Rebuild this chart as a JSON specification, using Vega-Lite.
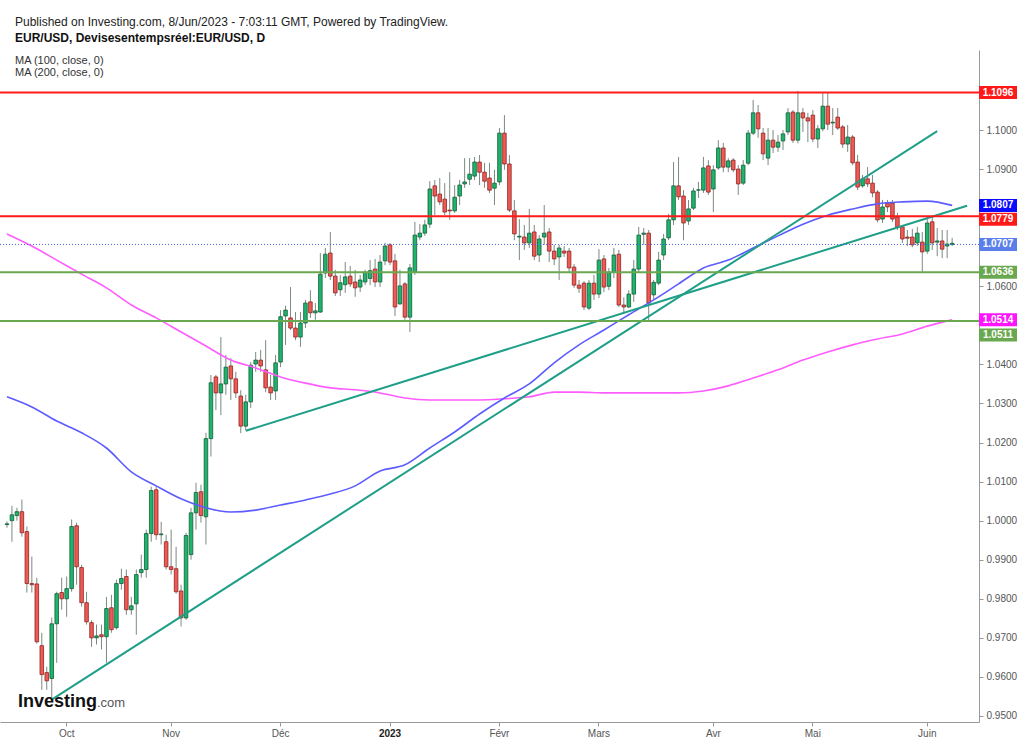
{
"$schema":"https://vega.github.io/schema/vega-lite/v6.json",
"width":979,"height":672,
"autosize":{"type":"none"},
"padding":{"left":0,"top":50,"right":45,"bottom":21},
"background":"#ffffff",
"config":{"view":{"stroke":null},"font":"Liberation Sans"},
"title":{"text":"Published on Investing.com, 8/Jun/2023 - 7:03:11 GMT, Powered by TradingView.","subtitle":"EUR/USD, Devisesentempsréel:EUR/USD, D","anchor":"start","frame":"group","dx":15,"offset":5,"font":"Liberation Sans","fontSize":12,"fontWeight":"normal","color":"#222222","subtitleFont":"Liberation Sans","subtitleFontSize":12,"subtitleFontWeight":"bold","subtitleColor":"#111111","subtitlePadding":4},
"datasets":{
"candles":[
{"d":"2022-09-15","o":0.9990,"h":0.9998,"l":0.9982,"c":0.9992},
{"d":"2022-09-16","o":1.0000,"h":1.0038,"l":0.9946,"c":1.0015},
{"d":"2022-09-19","o":1.0013,"h":1.0033,"l":1.0000,"c":1.0023},
{"d":"2022-09-20","o":1.0023,"h":1.0054,"l":0.9959,"c":0.9969},
{"d":"2022-09-21","o":0.9972,"h":0.9985,"l":0.9816,"c":0.9839},
{"d":"2022-09-22","o":0.9839,"h":0.9908,"l":0.9816,"c":0.9836},
{"d":"2022-09-23","o":0.9838,"h":0.9854,"l":0.9685,"c":0.9690},
{"d":"2022-09-26","o":0.9680,"h":0.9713,"l":0.9567,"c":0.9606},
{"d":"2022-09-27","o":0.9611,"h":0.9626,"l":0.9567,"c":0.9590},
{"d":"2022-09-28","o":0.9596,"h":0.9752,"l":0.9540,"c":0.9736},
{"d":"2022-09-29","o":0.9736,"h":0.9818,"l":0.9636,"c":0.9813},
{"d":"2022-09-30","o":0.9816,"h":0.9854,"l":0.9772,"c":0.9800},
{"d":"2022-10-03","o":0.9800,"h":0.9857,"l":0.9754,"c":0.9826},
{"d":"2022-10-04","o":0.9826,"h":1.0003,"l":0.9818,"c":0.9985},
{"d":"2022-10-05","o":0.9987,"h":0.9995,"l":0.9836,"c":0.9882},
{"d":"2022-10-06","o":0.9880,"h":0.9887,"l":0.9780,"c":0.9790},
{"d":"2022-10-07","o":0.9790,"h":0.9818,"l":0.9734,"c":0.9741},
{"d":"2022-10-10","o":0.9739,"h":0.9745,"l":0.9677,"c":0.9700},
{"d":"2022-10-11","o":0.9700,"h":0.9734,"l":0.9683,"c":0.9705},
{"d":"2022-10-12","o":0.9708,"h":0.9734,"l":0.9670,"c":0.9703},
{"d":"2022-10-13","o":0.9703,"h":0.9805,"l":0.9636,"c":0.9775},
{"d":"2022-10-14","o":0.9777,"h":0.9810,"l":0.9713,"c":0.9721},
{"d":"2022-10-17","o":0.9726,"h":0.9849,"l":0.9721,"c":0.9839},
{"d":"2022-10-18","o":0.9839,"h":0.9877,"l":0.9823,"c":0.9852},
{"d":"2022-10-19","o":0.9857,"h":0.9875,"l":0.9759,"c":0.9772},
{"d":"2022-10-20","o":0.9772,"h":0.9805,"l":0.9759,"c":0.9782},
{"d":"2022-10-21","o":0.9787,"h":0.9875,"l":0.9708,"c":0.9862},
{"d":"2022-10-24","o":0.9867,"h":0.9913,"l":0.9854,"c":0.9875},
{"d":"2022-10-25","o":0.9875,"h":0.9977,"l":0.9854,"c":0.9967},
{"d":"2022-10-26","o":0.9967,"h":1.0087,"l":0.9946,"c":1.0077},
{"d":"2022-10-27","o":1.0079,"h":1.0087,"l":0.9951,"c":0.9964},
{"d":"2022-10-28","o":0.9964,"h":0.9997,"l":0.9939,"c":0.9966},
{"d":"2022-10-31","o":0.9946,"h":0.9964,"l":0.9875,"c":0.9882},
{"d":"2022-11-01","o":0.9882,"h":0.9977,"l":0.9862,"c":0.9875},
{"d":"2022-11-02","o":0.9877,"h":0.9933,"l":0.9813,"c":0.9818},
{"d":"2022-11-03","o":0.9820,"h":0.9836,"l":0.9729,"c":0.9751},
{"d":"2022-11-04","o":0.9751,"h":0.9969,"l":0.9746,"c":0.9962},
{"d":"2022-11-07","o":0.9913,"h":1.0033,"l":0.9900,"c":1.0020},
{"d":"2022-11-08","o":1.0020,"h":1.0097,"l":0.9977,"c":1.0072},
{"d":"2022-11-09","o":1.0074,"h":1.0092,"l":0.9995,"c":1.0013},
{"d":"2022-11-10","o":1.0010,"h":1.0225,"l":0.9939,"c":1.0210},
{"d":"2022-11-11","o":1.0210,"h":1.0373,"l":1.0164,"c":1.0353},
{"d":"2022-11-14","o":1.0368,"h":1.0373,"l":1.0283,"c":1.0327},
{"d":"2022-11-15","o":1.0327,"h":1.0470,"l":1.0270,"c":1.0350},
{"d":"2022-11-16","o":1.0350,"h":1.0424,"l":1.0322,"c":1.0393},
{"d":"2022-11-17","o":1.0396,"h":1.0416,"l":1.0309,"c":1.0363},
{"d":"2022-11-18","o":1.0363,"h":1.0381,"l":1.0314,"c":1.0327},
{"d":"2022-11-21","o":1.0319,"h":1.0334,"l":1.0224,"c":1.0242},
{"d":"2022-11-22","o":1.0242,"h":1.0322,"l":1.0232,"c":1.0304},
{"d":"2022-11-23","o":1.0304,"h":1.0406,"l":1.0288,"c":1.0398},
{"d":"2022-11-24","o":1.0401,"h":1.0432,"l":1.0381,"c":1.0411},
{"d":"2022-11-25","o":1.0411,"h":1.0437,"l":1.0381,"c":1.0396},
{"d":"2022-11-28","o":1.0386,"h":1.0462,"l":1.0329,"c":1.0340},
{"d":"2022-11-29","o":1.0342,"h":1.0373,"l":1.0309,"c":1.0327},
{"d":"2022-11-30","o":1.0332,"h":1.0424,"l":1.0309,"c":1.0404},
{"d":"2022-12-01","o":1.0406,"h":1.0539,"l":1.0393,"c":1.0522},
{"d":"2022-12-02","o":1.0524,"h":1.0550,"l":1.0450,"c":1.0539},
{"d":"2022-12-05","o":1.0519,"h":1.0598,"l":1.0488,"c":1.0493},
{"d":"2022-12-06","o":1.0493,"h":1.0534,"l":1.0462,"c":1.0470},
{"d":"2022-12-07","o":1.0470,"h":1.0534,"l":1.0445,"c":1.0506},
{"d":"2022-12-08","o":1.0506,"h":1.0565,"l":1.0493,"c":1.0557},
{"d":"2022-12-09","o":1.0560,"h":1.0590,"l":1.0519,"c":1.0532},
{"d":"2022-12-12","o":1.0532,"h":1.0557,"l":1.0514,"c":1.0537},
{"d":"2022-12-13","o":1.0534,"h":1.0685,"l":1.0532,"c":1.0631},
{"d":"2022-12-14","o":1.0634,"h":1.0698,"l":1.0621,"c":1.0682},
{"d":"2022-12-15","o":1.0685,"h":1.0739,"l":1.0616,"c":1.0626},
{"d":"2022-12-16","o":1.0626,"h":1.0642,"l":1.0575,"c":1.0583},
{"d":"2022-12-19","o":1.0591,"h":1.0629,"l":1.0575,"c":1.0609},
{"d":"2022-12-20","o":1.0604,"h":1.0662,"l":1.0583,"c":1.0624},
{"d":"2022-12-21","o":1.0626,"h":1.0652,"l":1.0598,"c":1.0606},
{"d":"2022-12-22","o":1.0611,"h":1.0642,"l":1.0573,"c":1.0596},
{"d":"2022-12-23","o":1.0598,"h":1.0629,"l":1.0585,"c":1.0616},
{"d":"2022-12-26","o":1.0611,"h":1.0642,"l":1.0603,"c":1.0636},
{"d":"2022-12-27","o":1.0620,"h":1.0667,"l":1.0603,"c":1.0640},
{"d":"2022-12-28","o":1.0644,"h":1.0670,"l":1.0598,"c":1.0611},
{"d":"2022-12-29","o":1.0611,"h":1.0680,"l":1.0598,"c":1.0662},
{"d":"2022-12-30","o":1.0665,"h":1.0711,"l":1.0654,"c":1.0703},
{"d":"2023-01-02","o":1.0706,"h":1.0711,"l":1.0654,"c":1.0662},
{"d":"2023-01-03","o":1.0665,"h":1.0683,"l":1.0524,"c":1.0547},
{"d":"2023-01-04","o":1.0555,"h":1.0642,"l":1.0552,"c":1.0601},
{"d":"2023-01-05","o":1.0606,"h":1.0611,"l":1.0514,"c":1.0521},
{"d":"2023-01-06","o":1.0521,"h":1.0657,"l":1.0483,"c":1.0647},
{"d":"2023-01-09","o":1.0637,"h":1.0765,"l":1.0629,"c":1.0731},
{"d":"2023-01-10","o":1.0726,"h":1.0759,"l":1.0718,"c":1.0736},
{"d":"2023-01-11","o":1.0736,"h":1.0770,"l":1.0729,"c":1.0757},
{"d":"2023-01-12","o":1.0759,"h":1.0869,"l":1.0749,"c":1.0849},
{"d":"2023-01-13","o":1.0857,"h":1.0872,"l":1.0782,"c":1.0831},
{"d":"2023-01-16","o":1.0836,"h":1.0877,"l":1.0808,"c":1.0816},
{"d":"2023-01-17","o":1.0823,"h":1.0864,"l":1.0782,"c":1.0790},
{"d":"2023-01-18","o":1.0795,"h":1.0892,"l":1.0770,"c":1.0793},
{"d":"2023-01-19","o":1.0793,"h":1.0859,"l":1.0788,"c":1.0828},
{"d":"2023-01-20","o":1.0831,"h":1.0872,"l":1.0808,"c":1.0859},
{"d":"2023-01-23","o":1.0862,"h":1.0928,"l":1.0852,"c":1.0867},
{"d":"2023-01-24","o":1.0874,"h":1.0928,"l":1.0859,"c":1.0887},
{"d":"2023-01-25","o":1.0882,"h":1.0931,"l":1.0872,"c":1.0918},
{"d":"2023-01-26","o":1.0918,"h":1.0936,"l":1.0859,"c":1.0892},
{"d":"2023-01-27","o":1.0892,"h":1.0916,"l":1.0852,"c":1.0869},
{"d":"2023-01-30","o":1.0877,"h":1.0916,"l":1.0839,"c":1.0846},
{"d":"2023-01-31","o":1.0851,"h":1.0898,"l":1.0808,"c":1.0864},
{"d":"2023-02-01","o":1.0867,"h":1.1005,"l":1.0859,"c":1.0992},
{"d":"2023-02-02","o":1.0992,"h":1.1038,"l":1.0898,"c":1.0913},
{"d":"2023-02-03","o":1.0913,"h":1.0936,"l":1.0790,"c":1.0795},
{"d":"2023-02-06","o":1.0793,"h":1.0821,"l":1.0718,"c":1.0734},
{"d":"2023-02-07","o":1.0726,"h":1.0772,"l":1.0667,"c":1.0728},
{"d":"2023-02-08","o":1.0726,"h":1.0757,"l":1.0693,"c":1.0711},
{"d":"2023-02-09","o":1.0711,"h":1.0798,"l":1.0698,"c":1.0736},
{"d":"2023-02-10","o":1.0739,"h":1.0757,"l":1.0667,"c":1.0677},
{"d":"2023-02-13","o":1.0680,"h":1.0731,"l":1.0662,"c":1.0721},
{"d":"2023-02-14","o":1.0726,"h":1.0808,"l":1.0706,"c":1.0736},
{"d":"2023-02-15","o":1.0739,"h":1.0749,"l":1.0662,"c":1.0690},
{"d":"2023-02-16","o":1.0690,"h":1.0706,"l":1.0654,"c":1.0670},
{"d":"2023-02-17","o":1.0675,"h":1.0706,"l":1.0616,"c":1.0698},
{"d":"2023-02-20","o":1.0690,"h":1.0703,"l":1.0675,"c":1.0685},
{"d":"2023-02-21","o":1.0690,"h":1.0698,"l":1.0636,"c":1.0647},
{"d":"2023-02-22","o":1.0649,"h":1.0657,"l":1.0596,"c":1.0603},
{"d":"2023-02-23","o":1.0603,"h":1.0616,"l":1.0583,"c":1.0595},
{"d":"2023-02-24","o":1.0608,"h":1.0613,"l":1.0539,"c":1.0547},
{"d":"2023-02-27","o":1.0544,"h":1.0616,"l":1.0539,"c":1.0608},
{"d":"2023-02-28","o":1.0608,"h":1.0629,"l":1.0565,"c":1.0580},
{"d":"2023-03-01","o":1.0580,"h":1.0695,"l":1.0570,"c":1.0667},
{"d":"2023-03-02","o":1.0670,"h":1.0680,"l":1.0585,"c":1.0598},
{"d":"2023-03-03","o":1.0600,"h":1.0647,"l":1.0590,"c":1.0636},
{"d":"2023-03-06","o":1.0636,"h":1.0698,"l":1.0621,"c":1.0680},
{"d":"2023-03-07","o":1.0682,"h":1.0693,"l":1.0547,"c":1.0552},
{"d":"2023-03-08","o":1.0552,"h":1.0572,"l":1.0534,"c":1.0547},
{"d":"2023-03-09","o":1.0547,"h":1.0590,"l":1.0544,"c":1.0580},
{"d":"2023-03-10","o":1.0580,"h":1.0667,"l":1.0560,"c":1.0644},
{"d":"2023-03-13","o":1.0644,"h":1.0752,"l":1.0636,"c":1.0731},
{"d":"2023-03-14","o":1.0733,"h":1.0749,"l":1.0706,"c":1.0736},
{"d":"2023-03-15","o":1.0736,"h":1.0744,"l":1.0510,"c":1.0557},
{"d":"2023-03-16","o":1.0578,"h":1.0616,"l":1.0565,"c":1.0610},
{"d":"2023-03-17","o":1.0608,"h":1.0688,"l":1.0603,"c":1.0667},
{"d":"2023-03-20","o":1.0680,"h":1.0734,"l":1.0667,"c":1.0721},
{"d":"2023-03-21","o":1.0724,"h":1.0785,"l":1.0718,"c":1.0770},
{"d":"2023-03-22","o":1.0770,"h":1.0918,"l":1.0757,"c":1.0857},
{"d":"2023-03-23","o":1.0857,"h":1.0931,"l":1.0821,"c":1.0829},
{"d":"2023-03-24","o":1.0831,"h":1.0846,"l":1.0718,"c":1.0762},
{"d":"2023-03-27","o":1.0767,"h":1.0821,"l":1.0757,"c":1.0798},
{"d":"2023-03-28","o":1.0800,"h":1.0852,"l":1.0795,"c":1.0844},
{"d":"2023-03-29","o":1.0846,"h":1.0867,"l":1.0826,"c":1.0847},
{"d":"2023-03-30","o":1.0846,"h":1.0931,"l":1.0839,"c":1.0903},
{"d":"2023-03-31","o":1.0908,"h":1.0923,"l":1.0834,"c":1.0841},
{"d":"2023-04-03","o":1.0849,"h":1.0910,"l":1.0790,"c":1.0898},
{"d":"2023-04-04","o":1.0903,"h":1.0974,"l":1.0898,"c":1.0954},
{"d":"2023-04-05","o":1.0954,"h":1.0967,"l":1.0892,"c":1.0905},
{"d":"2023-04-06","o":1.0905,"h":1.0928,"l":1.0892,"c":1.0921},
{"d":"2023-04-07","o":1.0923,"h":1.0928,"l":1.0892,"c":1.0898},
{"d":"2023-04-10","o":1.0900,"h":1.0910,"l":1.0834,"c":1.0862},
{"d":"2023-04-11","o":1.0864,"h":1.0923,"l":1.0859,"c":1.0910},
{"d":"2023-04-12","o":1.0915,"h":1.1000,"l":1.0910,"c":1.0992},
{"d":"2023-04-13","o":1.0992,"h":1.1077,"l":1.0987,"c":1.1044},
{"d":"2023-04-14","o":1.1044,"h":1.1064,"l":1.0980,"c":1.1003},
{"d":"2023-04-17","o":1.0992,"h":1.1005,"l":1.0923,"c":1.0939},
{"d":"2023-04-18","o":1.0928,"h":1.1005,"l":1.0910,"c":1.0974},
{"d":"2023-04-19","o":1.0974,"h":1.1000,"l":1.0941,"c":1.0956},
{"d":"2023-04-20","o":1.0956,"h":1.0987,"l":1.0944,"c":1.0969},
{"d":"2023-04-21","o":1.0972,"h":1.1000,"l":1.0949,"c":1.0990},
{"d":"2023-04-24","o":1.0995,"h":1.1056,"l":1.0987,"c":1.1044},
{"d":"2023-04-25","o":1.1046,"h":1.1051,"l":1.0967,"c":1.0974},
{"d":"2023-04-26","o":1.0974,"h":1.1100,"l":1.0966,"c":1.1044},
{"d":"2023-04-27","o":1.1044,"h":1.1056,"l":1.0995,"c":1.1031},
{"d":"2023-04-28","o":1.1031,"h":1.1044,"l":1.0969,"c":1.1023},
{"d":"2023-05-01","o":1.1038,"h":1.1051,"l":1.0969,"c":1.0977},
{"d":"2023-05-02","o":1.0977,"h":1.1013,"l":1.0954,"c":1.1003},
{"d":"2023-05-03","o":1.1003,"h":1.1097,"l":1.0997,"c":1.1061},
{"d":"2023-05-04","o":1.1061,"h":1.1097,"l":1.1000,"c":1.1015},
{"d":"2023-05-05","o":1.1018,"h":1.1056,"l":1.0987,"c":1.1020},
{"d":"2023-05-08","o":1.1033,"h":1.1056,"l":1.1000,"c":1.1005},
{"d":"2023-05-09","o":1.1008,"h":1.1013,"l":1.0954,"c":1.0964},
{"d":"2023-05-10","o":1.0964,"h":1.1013,"l":1.0944,"c":1.0982},
{"d":"2023-05-11","o":1.0982,"h":1.0987,"l":1.0910,"c":1.0916},
{"d":"2023-05-12","o":1.0918,"h":1.0936,"l":1.0846,"c":1.0854},
{"d":"2023-05-15","o":1.0857,"h":1.0885,"l":1.0852,"c":1.0875},
{"d":"2023-05-16","o":1.0875,"h":1.0905,"l":1.0854,"c":1.0862},
{"d":"2023-05-17","o":1.0864,"h":1.0885,"l":1.0828,"c":1.0839},
{"d":"2023-05-18","o":1.0841,"h":1.0846,"l":1.0764,"c":1.0770},
{"d":"2023-05-19","o":1.0772,"h":1.0821,"l":1.0762,"c":1.0803},
{"d":"2023-05-22","o":1.0813,"h":1.0821,"l":1.0790,"c":1.0803},
{"d":"2023-05-23","o":1.0813,"h":1.0821,"l":1.0764,"c":1.0772},
{"d":"2023-05-24","o":1.0777,"h":1.0788,"l":1.0744,"c":1.0752},
{"d":"2023-05-25","o":1.0752,"h":1.0757,"l":1.0711,"c":1.0721},
{"d":"2023-05-26","o":1.0726,"h":1.0744,"l":1.0703,"c":1.0723},
{"d":"2023-05-29","o":1.0726,"h":1.0747,"l":1.0700,"c":1.0706},
{"d":"2023-05-30","o":1.0711,"h":1.0752,"l":1.0703,"c":1.0736},
{"d":"2023-05-31","o":1.0713,"h":1.0739,"l":1.0636,"c":1.0688},
{"d":"2023-06-01","o":1.0690,"h":1.0775,"l":1.0683,"c":1.0762},
{"d":"2023-06-02","o":1.0765,"h":1.0779,"l":1.0693,"c":1.0711},
{"d":"2023-06-05","o":1.0713,"h":1.0749,"l":1.0677,"c":1.0716},
{"d":"2023-06-06","o":1.0716,"h":1.0744,"l":1.0672,"c":1.0695},
{"d":"2023-06-07","o":1.0703,"h":1.0744,"l":1.0672,"c":1.0708},
{"d":"2023-06-08","o":1.0707,"h":1.0724,"l":1.0703,"c":1.0710}
],
"ma":[
{"d":"2022-09-15","m100":1.0317,"m200":1.0734},
{"d":"2022-09-22","m100":1.0291,"m200":1.0703},
{"d":"2022-09-29","m100":1.0255,"m200":1.0667},
{"d":"2022-10-06","m100":1.0225,"m200":1.0631},
{"d":"2022-10-13","m100":1.0186,"m200":1.0596},
{"d":"2022-10-20","m100":1.0125,"m200":1.0552},
{"d":"2022-10-27","m100":1.0089,"m200":1.0519},
{"d":"2022-11-03","m100":1.0056,"m200":1.0483},
{"d":"2022-11-10","m100":1.0033,"m200":1.0447},
{"d":"2022-11-17","m100":1.0022,"m200":1.0411},
{"d":"2022-11-24","m100":1.0027,"m200":1.0391},
{"d":"2022-12-01","m100":1.0040,"m200":1.0368},
{"d":"2022-12-08","m100":1.0053,"m200":1.0352},
{"d":"2022-12-15","m100":1.0068,"m200":1.0340},
{"d":"2022-12-22","m100":1.0089,"m200":1.0335},
{"d":"2022-12-29","m100":1.0127,"m200":1.0327},
{"d":"2023-01-05","m100":1.0143,"m200":1.0314},
{"d":"2023-01-12","m100":1.0186,"m200":1.0309},
{"d":"2023-01-19","m100":1.0227,"m200":1.0309},
{"d":"2023-01-26","m100":1.0273,"m200":1.0309},
{"d":"2023-02-02","m100":1.0314,"m200":1.0312},
{"d":"2023-02-09","m100":1.0350,"m200":1.0317},
{"d":"2023-02-16","m100":1.0404,"m200":1.0329},
{"d":"2023-02-23","m100":1.0450,"m200":1.0329},
{"d":"2023-03-02","m100":1.0488,"m200":1.0327},
{"d":"2023-03-09","m100":1.0527,"m200":1.0327},
{"d":"2023-03-16","m100":1.0565,"m200":1.0327},
{"d":"2023-03-23","m100":1.0606,"m200":1.0327},
{"d":"2023-03-30","m100":1.0647,"m200":1.0332},
{"d":"2023-04-06","m100":1.0667,"m200":1.0345},
{"d":"2023-04-13","m100":1.0698,"m200":1.0365},
{"d":"2023-04-20","m100":1.0729,"m200":1.0386},
{"d":"2023-04-27","m100":1.0759,"m200":1.0411},
{"d":"2023-05-04","m100":1.0782,"m200":1.0432},
{"d":"2023-05-11","m100":1.0798,"m200":1.0450},
{"d":"2023-05-18","m100":1.0811,"m200":1.0465},
{"d":"2023-05-25","m100":1.0816,"m200":1.0478},
{"d":"2023-06-01","m100":1.0818,"m200":1.0498},
{"d":"2023-06-08","m100":1.0807,"m200":1.0514}
],
"trend":[
{"line":"A","d":"2022-09-28","v":0.9542},
{"line":"A","d":"2023-06-05","v":1.0997},
{"line":"B","d":"2022-11-22","v":1.0230},
{"line":"B","d":"2023-06-13","v":1.0806}
],
"levels":[
{"value":1.1096,"kind":"res"},
{"value":1.0807,"kind":"ma100"},
{"value":1.0779,"kind":"res"},
{"value":1.0707,"kind":"last"},
{"value":1.0636,"kind":"sup"},
{"value":1.0514,"kind":"ma200"},
{"value":1.0511,"kind":"sup"}
]
},
"layer":[
{"data":{"name":"candles"},
 "mark":{"type":"rule","color":"#7b8a80","strokeWidth":1},
 "encoding":{
  "x":{"field":"d","type":"ordinal","title":null,"scale":{"type":"band","paddingInner":0,"paddingOuter":0.9,"domain":{"unionWith":["2023-06-09","2023-06-12","2023-06-13","2023-06-14"]}},
   "axis":{"title":null,"values":["2022-10-03","2022-11-01","2022-12-01","2023-01-02","2023-02-01","2023-03-01","2023-04-03","2023-05-01","2023-06-01"],
    "labelExpr":"['Oct','Nov','Déc','2023','Févr','Mars','Avr','Mai','Juin'][indexof(['2022-10-03','2022-11-01','2022-12-01','2023-01-02','2023-02-01','2023-03-01','2023-04-03','2023-05-01','2023-06-01'], datum.value)]",
    "labelAngle":0,"labelFont":"Liberation Sans","labelFontSize":10,"labelColor":{"condition":{"test":"datum.value == '2023-01-02'","value":"#222222"},"value":"#555555"},
    "labelFontWeight":{"condition":{"test":"datum.value == '2023-01-02'","value":"bold"},"value":"normal"},
    "tickSize":4,"tickColor":"#999999","domainColor":"#999999","labelPadding":2,"grid":false,"labelOverlap":false}},
  "y":{"field":"l","type":"quantitative","title":null,"scale":{"domain":[0.94846,1.12048],"nice":false,"zero":false},
   "axis":{"orient":"right","title":null,"values":[0.95,0.96,0.97,0.98,0.99,1.0,1.01,1.02,1.03,1.04,1.06,1.09,1.1],"format":".4f","labelFont":"Liberation Sans","labelFontSize":10,"labelColor":"#555555","tickSize":4,"tickColor":"#999999","domainColor":"#999999","labelPadding":3,"grid":false,"labelOverlap":false}},
  "y2":{"field":"h"}}},
{"data":{"name":"candles"},
 "mark":{"type":"bar","width":{"band":0.72},"strokeWidth":0.8},
 "encoding":{
  "x":{"field":"d","type":"ordinal","title":null},
  "y":{"field":"o","type":"quantitative","title":null},
  "y2":{"field":"c"},
  "fill":{"condition":{"test":"datum.c >= datum.o","value":"#1db56c"},"value":"#ef5b52"},
  "stroke":{"condition":{"test":"datum.c >= datum.o","value":"#145c3a"},"value":"#8c2323"}}},
{"data":{"name":"ma"},
 "mark":{"type":"line","color":"#ff5cff","strokeWidth":1.6,"interpolate":"monotone"},
 "encoding":{"x":{"field":"d","type":"ordinal","title":null},"y":{"field":"m200","type":"quantitative","title":null}}},
{"data":{"name":"ma"},
 "mark":{"type":"line","color":"#5c5cff","strokeWidth":1.6,"interpolate":"monotone"},
 "encoding":{"x":{"field":"d","type":"ordinal","title":null},"y":{"field":"m100","type":"quantitative","title":null}}},
{"data":{"name":"trend"},
 "mark":{"type":"line","color":"#1f9e88","strokeWidth":2},
 "encoding":{"x":{"field":"d","type":"ordinal","title":null},"y":{"field":"v","type":"quantitative","title":null},"detail":{"field":"line"}}},
{"data":{"name":"levels"},
 "transform":[{"filter":"datum.kind == 'res' || datum.kind == 'sup'"}],
 "mark":{"type":"rule","strokeWidth":2},
 "encoding":{"y":{"field":"value","type":"quantitative","title":null},
  "color":{"field":"kind","type":"nominal","legend":null,"scale":{"domain":["res","sup","ma100","ma200","last"],"range":["#ff1a1a","#6aa84f","#0a0aff","#ff14ff","#5a7fea"]}}}},
{"data":{"name":"levels"},
 "transform":[{"filter":"datum.kind == 'last'"}],
 "mark":{"type":"rule","strokeWidth":1,"strokeDash":[1,2],"color":"#3f63f0"},
 "encoding":{"y":{"field":"value","type":"quantitative","title":null}}},
{"data":{"name":"levels"},
 "transform":[{"filter":"datum.value != 1.0511 && datum.value != 1.0779"}],
 "mark":{"type":"tick","orient":"horizontal","size":38,"thickness":13,"xOffset":19,"opacity":1},
 "encoding":{"x":{"value":"width"},"y":{"field":"value","type":"quantitative","title":null},"color":{"field":"kind","type":"nominal","legend":null}}},
{"data":{"name":"levels"},
 "transform":[{"filter":"datum.value == 1.0779"}],
 "mark":{"type":"tick","orient":"horizontal","size":38,"thickness":13,"xOffset":19,"yOffset":3,"opacity":1},
 "encoding":{"x":{"value":"width"},"y":{"field":"value","type":"quantitative","title":null},"color":{"field":"kind","type":"nominal","legend":null}}},
{"data":{"name":"levels"},
 "transform":[{"filter":"datum.value == 1.0511"}],
 "mark":{"type":"tick","orient":"horizontal","size":38,"thickness":13,"xOffset":19,"yOffset":14,"opacity":1},
 "encoding":{"x":{"value":"width"},"y":{"field":"value","type":"quantitative","title":null},"color":{"field":"kind","type":"nominal","legend":null}}},
{"data":{"name":"levels"},
 "transform":[{"filter":"datum.value != 1.0511 && datum.value != 1.0779"}],
 "mark":{"type":"text","dx":19,"align":"center","baseline":"middle","font":"Liberation Sans","fontSize":10,"fontWeight":"bold","color":"#ffffff"},
 "encoding":{"x":{"value":"width"},"y":{"field":"value","type":"quantitative","title":null},"text":{"field":"value","format":".4f"}}},
{"data":{"name":"levels"},
 "transform":[{"filter":"datum.value == 1.0779"}],
 "mark":{"type":"text","dx":19,"dy":3,"align":"center","baseline":"middle","font":"Liberation Sans","fontSize":10,"fontWeight":"bold","color":"#ffffff"},
 "encoding":{"x":{"value":"width"},"y":{"field":"value","type":"quantitative","title":null},"text":{"field":"value","format":".4f"}}},
{"data":{"name":"levels"},
 "transform":[{"filter":"datum.value == 1.0511"}],
 "mark":{"type":"text","dx":19,"dy":14,"align":"center","baseline":"middle","font":"Liberation Sans","fontSize":10,"fontWeight":"bold","color":"#ffffff"},
 "encoding":{"x":{"value":"width"},"y":{"field":"value","type":"quantitative","title":null},"text":{"field":"value","format":".4f"}}},
{"data":{"values":[{}]},
 "mark":{"type":"text","align":"left","baseline":"middle","dx":8,"font":"Liberation Sans","fontSize":11,"color":"#333333"},
 "encoding":{"x":{"datum":"2022-09-15","type":"ordinal","title":null},"y":{"datum":1.11766,"type":"quantitative","title":null},"text":{"value":"MA (100, close, 0)"}}},
{"data":{"values":[{}]},
 "mark":{"type":"text","align":"left","baseline":"middle","dx":8,"font":"Liberation Sans","fontSize":11,"color":"#333333"},
 "encoding":{"x":{"datum":"2022-09-15","type":"ordinal","title":null},"y":{"datum":1.11459,"type":"quantitative","title":null},"text":{"value":"MA (200, close, 0)"}}},
{"data":{"values":[{}]},
 "mark":{"type":"text","align":"left","baseline":"alphabetic","dx":11,"font":"Liberation Sans","fontSize":18,"fontWeight":"bold","color":"#111111"},
 "encoding":{"x":{"datum":"2022-09-15","type":"ordinal","title":null},"y":{"datum":0.95232,"type":"quantitative","title":null},"text":{"value":"Investing"}}},
{"data":{"values":[{}]},
 "mark":{"type":"text","align":"left","baseline":"alphabetic","dx":90,"font":"Liberation Sans","fontSize":13,"color":"#555555"},
 "encoding":{"x":{"datum":"2022-09-15","type":"ordinal","title":null},"y":{"datum":0.95232,"type":"quantitative","title":null},"text":{"value":".com"}}}
]
}
